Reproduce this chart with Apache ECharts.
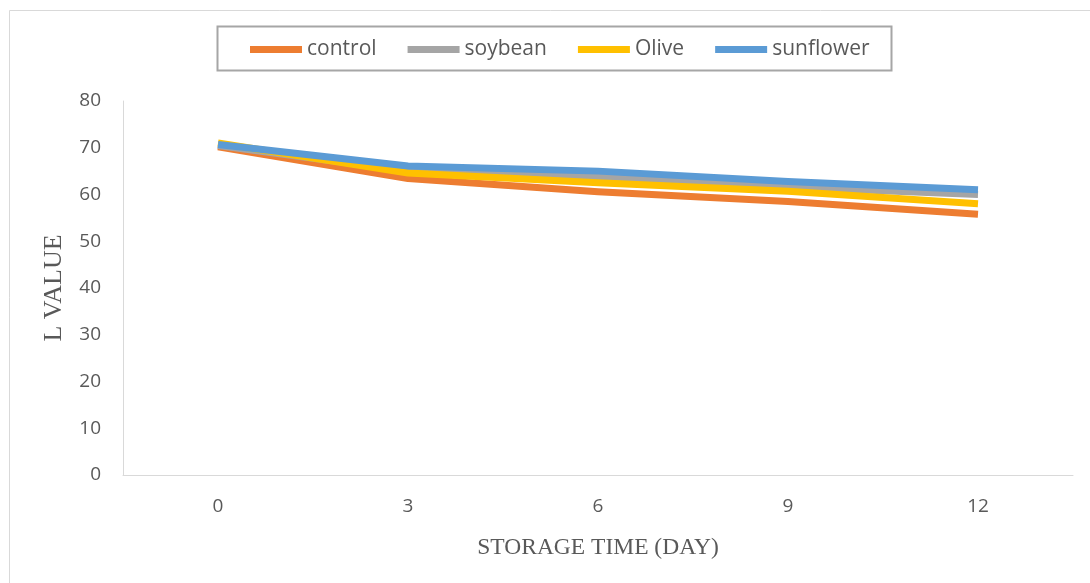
<!DOCTYPE html>
<html>
<head>
<meta charset="utf-8">
<script src="https://cdn.jsdelivr.net/npm/echarts@6/dist/echarts.min.js"></script>
<style>html,body{margin:0;padding:0;background:#fff;}#c{width:1090px;height:583px;}</style>
</head>
<body>
<div id="c"></div>
<script>
const categories = ['0', '3', '6', '9', '12'];
const control = [70.2, 63.4, 60.6, 58.5, 55.8];
const soybean = [70.5, 65.0, 63.8, 61.6, 60.0];
const olive = [71.0, 64.6, 62.5, 60.7, 58.0];
const sunflower = [70.7, 66.1, 65.0, 62.8, 61.0];
const seriesNames = ['control', 'soybean', 'Olive', 'sunflower'];
const colors = ['#ED7D31', '#A5A5A5', '#FFC000', '#5B9BD5'];
const yTicks = {min: 0, max: 80, interval: 10};

const chart = echarts.init(document.getElementById('c'), null, {renderer: 'canvas'});
const dataSets = [control, soybean, olive, sunflower];
chart.setOption({
  animation: false,
  backgroundColor: '#fff',
  graphic: [
    {type: 'rect', shape: {x: 9.5, y: 10.5, width: 1100, height: 600}, style: {fill: 'none', stroke: '#d9d9d9', lineWidth: 1}, silent: true},
    {type: 'rect', shape: {x: 217.5, y: 26.5, width: 674, height: 44}, style: {fill: 'none', stroke: '#a6a6a6', lineWidth: 2}, silent: true}
  ],
  legend: {
    left: 245, top: 34,
    itemWidth: 52, itemHeight: 7, itemGap: 31,
    icon: 'rect',
    textStyle: {fontFamily: 'Open Sans', fontSize: 21, color: '#595959'},
    data: seriesNames
  },
  grid: {left: 123, right: 17, top: 101, bottom: 108, containLabel: false},
  xAxis: {
    type: 'category', data: categories, boundaryGap: true,
    axisLine: {lineStyle: {color: '#d9d9d9', width: 1}},
    axisTick: {show: false},
    axisLabel: {fontFamily: 'Open Sans', fontSize: 19, color: '#595959', margin: 22},
    name: 'STORAGE TIME (DAY)', nameLocation: 'middle', nameGap: 61,
    nameTextStyle: {fontFamily: 'Liberation Serif', fontSize: 23.5, color: '#595959'}
  },
  yAxis: {
    type: 'value', min: yTicks.min, max: yTicks.max, interval: yTicks.interval,
    axisLine: {show: true, lineStyle: {color: '#d9d9d9', width: 1}},
    axisTick: {show: false},
    splitLine: {show: false},
    axisLabel: {fontFamily: 'Open Sans', fontSize: 19, color: '#595959', margin: 22},
    name: 'L VALUE', nameLocation: 'middle', nameGap: 56, nameRotate: 90,
    nameTextStyle: {fontFamily: 'Liberation Serif', fontSize: 26, color: '#595959'}
  },
  series: seriesNames.map((n, i) => ({
    name: n, type: 'line', data: dataSets[i], showSymbol: false, symbol: 'none',
    lineStyle: {width: 7, color: colors[i], join: 'round', cap: 'butt'},
    itemStyle: {color: colors[i]}
  }))
});
</script>
</body>
</html>
